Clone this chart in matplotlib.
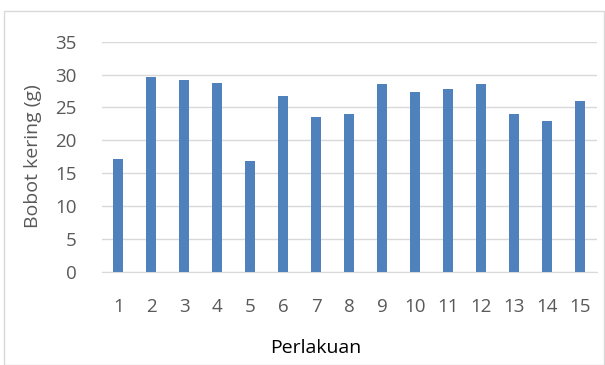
import matplotlib.pyplot as plt
from matplotlib.patches import Rectangle

# Bobot kering per perlakuan
perlakuan = [str(i) for i in range(1, 16)]
bobot_kering = [17.2, 29.6, 29.2, 28.7, 16.8, 26.7, 23.5, 24.0,
                28.5, 27.3, 27.8, 28.5, 24.0, 23.0, 26.0]
y_ticks = [0, 5, 10, 15, 20, 25, 30, 35]

plt.rcParams['font.family'] = ['Open Sans', 'DejaVu Sans']
text_color = '#595959'

fig = plt.figure(figsize=(6.05, 3.65), dpi=100)
fig.patches.append(Rectangle((4 / 605, 0), 600 / 605, 354 / 365,
                             transform=fig.transFigure, fill=False,
                             edgecolor='#D9D9D9', linewidth=1))

ax = fig.add_axes([101.7 / 605, 1 - 271.7 / 365, 495 / 605, 230 / 365])
x = list(range(len(perlakuan)))
ax.bar(x, bobot_kering, width=0.3, color='#4F81BD', zorder=3)

ax.set_xlim(-0.5, len(perlakuan) - 0.5)
ax.set_ylim(0, 35)
ax.set_yticks(y_ticks)
ax.set_xticks(x)
ax.set_xticklabels(perlakuan)
ax.yaxis.grid(True, color='#D9D9D9', linewidth=1, zorder=0)
for side in ['top', 'right', 'left']:
    ax.spines[side].set_visible(False)
ax.spines['bottom'].set_color('#D9D9D9')
ax.tick_params(axis='both', length=0, labelsize=13.5, colors=text_color)
ax.tick_params(axis='x', pad=19)
ax.tick_params(axis='y', pad=18)

# judul sumbu diletakkan seperti di grafik Excel
fig.text(316 / 605, 1 - 348 / 365, 'Perlakuan', fontsize=14,
         color='black', ha='center', va='center')
fig.text(33 / 605, 1 - 156 / 365, 'Bobot kering (g)', fontsize=14,
         color=text_color, ha='center', va='center', rotation=90)

fig.savefig('out.png', dpi=100)
